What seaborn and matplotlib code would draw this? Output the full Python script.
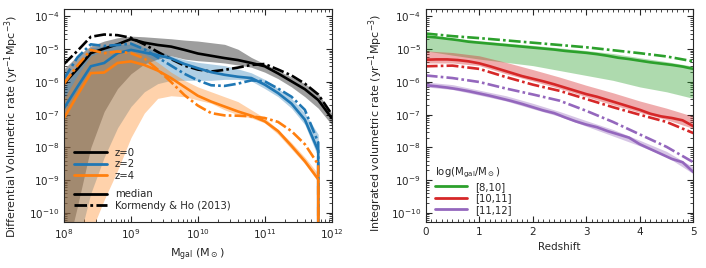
import numpy as np
import matplotlib
matplotlib.use("Agg")
import matplotlib.pyplot as plt
import seaborn as sns
from matplotlib.lines import Line2D

# ---- left panel: differential rate vs galaxy mass (log10 values) ----
logm = [8.0, 8.2, 8.4, 8.6, 8.8, 9.0, 9.2, 9.4, 9.6, 9.8, 10.0,
        10.2, 10.4, 10.6, 10.8, 11.0, 11.2, 11.4, 11.6, 11.8, 12.0]
NEG = -np.inf  # rate drops to zero

z0_med = [-6.05, -5.6, -5.12, -4.98, -4.85, -4.69, -4.80, -4.87, -4.92, -5.02, -5.13,
          -5.20, -5.27, -5.33, -5.42, -5.52, -5.74, -5.98, -6.22, -6.55, -7.1]
z0_kh = [-5.45, -5.05, -4.62, -4.55, -4.57, -4.65, -4.85, -5.08, -5.3, -5.5, -5.62,
         -5.68, -5.63, -5.56, -5.48, -5.45, -5.62, -5.8, -6.05, -6.38, -6.98]
z0_hi = [-5.6, -5.2, -4.9, -4.75, -4.65, -4.6, -4.62, -4.65, -4.68, -4.72, -4.75,
         -4.8, -4.85, -5.0, -5.25, -5.45, -5.65, -5.85, -6.05, -6.35, -6.95]
z0_lo = [-11.5, -9.8, -8.0, -6.9, -6.2, -5.75, -5.45, -5.3, -5.2, -5.3, -5.35,
         -5.38, -5.42, -5.48, -5.55, -5.7, -5.9, -6.15, -6.45, -6.8, -7.3]

z2_med = [-6.8, -6.15, -5.52, -5.42, -5.12, -5.02, -5.1, -5.18, -5.28, -5.45, -5.58,
          -5.7, -5.78, -5.84, -5.88, -6.08, -6.34, -6.66, -7.15, -8.1, NEG]
z2_kh = [-5.9, -5.25, -4.85, -4.9, -4.87, -4.83, -5.0, -5.25, -5.5, -5.75, -5.95,
         -6.1, -6.12, -6.05, -5.95, -5.98, -6.2, -6.45, -6.85, -7.85, NEG]
z2_hi = [-6.2, -5.5, -4.95, -4.9, -4.85, -4.85, -4.95, -5.05, -5.2, -5.32, -5.4,
         -5.45, -5.5, -5.6, -5.72, -5.92, -6.2, -6.5, -6.95, -7.6, np.nan]
z2_lo = [-12.0, -11.0, -9.4, -8.3, -7.4, -6.75, -6.3, -6.05, -5.95, -5.95, -5.95,
         -5.95, -5.92, -5.92, -5.97, -6.2, -6.45, -6.8, -7.3, -8.3, np.nan]

z4_med = [-7.1, -6.4, -5.73, -5.71, -5.42, -5.37, -5.48, -5.65, -5.88, -6.15, -6.42,
          -6.6, -6.75, -6.9, -7.03, -7.2, -7.5, -7.95, -8.42, -8.97, NEG]
z4_kh = [-6.05, -5.5, -5.02, -5.12, -5.07, -5.12, -5.28, -5.62, -6.0, -6.4, -6.72,
         -6.95, -7.02, -7.03, -7.05, -7.1, -7.22, -7.5, -7.9, -8.52, NEG]
z4_hi = [-6.5, -5.8, -5.2, -5.05, -5.0, -5.0, -5.15, -5.4, -5.7, -5.95, -6.15,
         -6.3, -6.45, -6.6, -6.85, -7.1, -7.45, -7.85, -8.3, -8.8, np.nan]
z4_lo = [-13.0, -12.5, -10.6, -9.6, -8.7, -7.7, -6.95, -6.5, -6.42, -6.45, -6.55,
         -6.65, -6.85, -7.0, -7.1, -7.25, -7.6, -8.05, -8.5, -9.05, np.nan]

# ---- right panel: integrated rate vs redshift (log10 values) ----
zfine = [0.0, 0.2, 0.4, 0.6, 0.8, 1.0, 1.2, 1.4, 1.6, 1.8, 2.0, 2.2, 2.4,
         2.6, 2.8, 3.0, 3.2, 3.4, 3.6, 3.8, 4.0, 4.2, 4.4, 4.6, 4.8, 5.0]
zcoarse = [0.0, 0.5, 1.0, 1.5, 2.0, 2.5, 3.0, 3.5, 4.0, 4.5, 5.0]

lo_med = [-4.61, -4.64, -4.68, -4.72, -4.77, -4.80, -4.83, -4.86, -4.89, -4.92, -4.95, -4.98, -5.01,
          -5.05, -5.08, -5.11, -5.15, -5.2, -5.26, -5.3, -5.35, -5.4, -5.44, -5.48, -5.53, -5.6]
lo_kh = [-4.52, -4.6, -4.66, -4.73, -4.8, -4.87, -4.94, -5.03, -5.12, -5.22, -5.37]
lo_hi = [-4.58, -4.66, -4.74, -4.81, -4.88, -4.96, -5.04, -5.13, -5.26, -5.38, -5.52]
lo_lo = [-5.05, -5.18, -5.3, -5.4, -5.5, -5.65, -5.8, -5.95, -6.15, -6.3, -6.5]

mid_med = [-5.32, -5.31, -5.31, -5.33, -5.37, -5.43, -5.52, -5.62, -5.72, -5.82, -5.9, -5.98, -6.07,
           -6.17, -6.27, -6.37, -6.45, -6.55, -6.65, -6.75, -6.85, -6.97, -7.05, -7.1, -7.17, -7.35]
mid_kh = [-5.52, -5.5, -5.6, -5.85, -6.08, -6.27, -6.52, -6.77, -7.0, -7.22, -7.56]
mid_hi = [-5.05, -5.1, -5.2, -5.4, -5.62, -5.85, -6.1, -6.33, -6.58, -6.8, -7.05]
mid_lo = [-5.42, -5.42, -5.5, -5.75, -5.97, -6.2, -6.45, -6.7, -6.93, -7.15, -7.42]

hi_med = [-6.1, -6.13, -6.17, -6.22, -6.28, -6.35, -6.42, -6.5, -6.58, -6.67, -6.77, -6.87, -6.95,
          -7.08, -7.2, -7.3, -7.38, -7.5, -7.6, -7.7, -7.9, -8.05, -8.2, -8.35, -8.45, -8.75]
hi_kh = [-5.8, -5.88, -6.0, -6.2, -6.38, -6.57, -6.88, -7.22, -7.6, -7.98, -8.45]
hi_hi = [-6.0, -6.08, -6.25, -6.42, -6.65, -6.9, -7.18, -7.45, -7.78, -8.12, -8.6]
hi_lo = [-6.15, -6.23, -6.4, -6.58, -6.82, -7.05, -7.35, -7.65, -7.95, -8.28, -8.8]

mass_labels = ['[8,10]', '[10,11]', '[11,12]']
z_labels = ['z=0', 'z=2', 'z=4']
style_labels = ['median', 'Kormendy & Ho (2013)']
rate_ticks = [1e-10, 1e-9, 1e-8, 1e-7, 1e-6, 1e-5, 1e-4]

sns.set_style("ticks")
plt.rcParams['font.family'] = ['DejaVu Sans']
plt.rcParams['mathtext.fontset'] = 'dejavusans'

DD = (0, (4.5, 1.2, 1.0, 1.2))  # dash-dot
LW = 1.9

fig = plt.figure(figsize=(7.06, 2.68), dpi=100)
ax1 = fig.add_axes([0.0907, 0.1716, 0.379, 0.795])
ax2 = fig.add_axes([0.603, 0.1716, 0.379, 0.795])

def lin(v):
    return np.power(10.0, np.array(v, dtype=float))

cols_z = ['black', '#1f77b4', '#ff7f0e']
alphas_z = [0.38, 0.35, 0.35]
m = lin(logm)
# gray first, then blue, then orange on top
for (lo, hi), c, a in zip([(z0_lo, z0_hi), (z2_lo, z2_hi), (z4_lo, z4_hi)], cols_z, alphas_z):
    ax1.fill_between(m, lin(lo), lin(hi), color=c, alpha=a, lw=0)

for med, kh, c in zip([z0_med, z2_med, z4_med], [z0_kh, z2_kh, z4_kh], cols_z):
    sns.lineplot(x=m, y=lin(med), ax=ax1, color=c, lw=LW, estimator=None, sort=False)
    sns.lineplot(x=m, y=lin(kh), ax=ax1, color=c, lw=LW, linestyle=DD, estimator=None, sort=False)

cols_m = ['#2ca02c', '#d62728', '#9467bd']
zf = np.array(zfine)
zc = np.array(zcoarse)
for lo, hi, c in zip([lo_lo, mid_lo, hi_lo], [lo_hi, mid_hi, hi_hi], cols_m):
    ax2.fill_between(zc, lin(lo), lin(hi), color=c, alpha=0.38, lw=0)
for med, kh, c in zip([lo_med, mid_med, hi_med], [lo_kh, mid_kh, hi_kh], cols_m):
    sns.lineplot(x=zf, y=lin(med), ax=ax2, color=c, lw=LW, estimator=None, sort=False)
    sns.lineplot(x=zc, y=lin(kh), ax=ax2, color=c, lw=LW, linestyle=DD, estimator=None, sort=False)

for ax in (ax1, ax2):
    ax.set_yscale('log')
    ax.set_yticks(rate_ticks)
    ax.yaxis.set_minor_locator(matplotlib.ticker.LogLocator(base=10, subs=np.arange(2, 10), numticks=20))
    ax.yaxis.set_minor_formatter(matplotlib.ticker.NullFormatter())
    ax.set_ylim(5.3e-11, 1.7e-4)
    ax.tick_params(which='both', direction='in', top=True, right=True, labelsize=7.5)
    ax.tick_params(which='major', length=4)
    ax.tick_params(which='minor', length=2)
    for s in ax.spines.values():
        s.set_linewidth(0.8)

ax1.set_xscale('log')
ax1.set_xticks([1e8, 1e9, 1e10, 1e11, 1e12])
ax1.xaxis.set_minor_formatter(matplotlib.ticker.NullFormatter())
ax1.set_xlim(1e8, 1e12)
ax1.set_xlabel(r'M$_{\rm gal}$ (M$_\odot$)', fontsize=8)
ax1.set_ylabel(r'Differential Volumetric rate (yr$^{-1}$Mpc$^{-3}$)', fontsize=8)
ax1.yaxis.set_label_coords(-0.16, 0.45)

ax2.set_xlim(0, 5)
ax2.xaxis.set_minor_locator(matplotlib.ticker.MultipleLocator(0.1))
ax2.set_xlabel('Redshift', fontsize=7.5)
ax2.set_ylabel(r'Integrated volumetric rate (yr$^{-1}$Mpc$^{-3}$)', fontsize=8)
ax2.yaxis.set_label_coords(-0.152, 0.465)

leg_kw = dict(frameon=False, fontsize=7.3, handlelength=3.2, handletextpad=0.8,
              labelspacing=0.15, borderaxespad=0.3)

hz = [Line2D([], [], color=c, lw=2) for c in cols_z]
leg_z = ax1.legend(hz, z_labels, loc='lower left', bbox_to_anchor=(0.0125, 0.161), **leg_kw)
ax1.add_artist(leg_z)
hs = [Line2D([], [], color='black', lw=2),
      Line2D([], [], color='black', lw=2, linestyle=DD)]
ax1.legend(hs, style_labels, loc='lower left', bbox_to_anchor=(0.0125, 0.02), **leg_kw)

h2 = [Line2D([], [], color=c, lw=2) for c in cols_m]
ax2.legend(h2, mass_labels, loc='lower left', bbox_to_anchor=(0.008, 0.0),
           title=r'log(M$_{\rm gal}$/M$_\odot$)', title_fontsize=7.3,
           alignment='left', **leg_kw)

fig.savefig('out.png', dpi=100)
